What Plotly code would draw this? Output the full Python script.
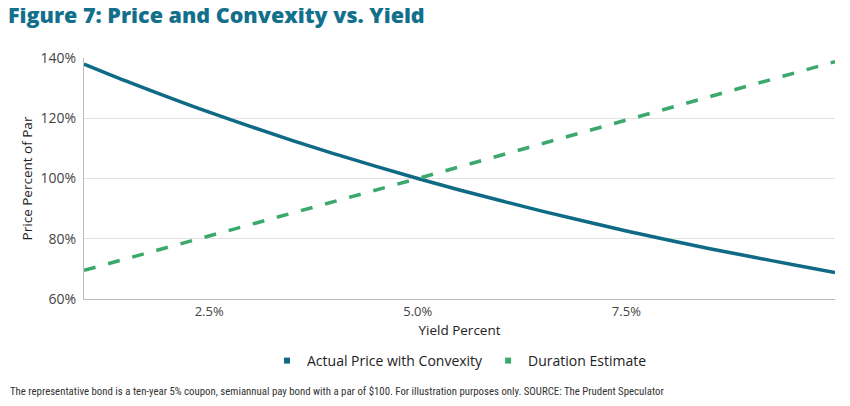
import plotly.graph_objects as go

# yield (%) and price (% of par)
yields = [1.0, 1.5, 2.0, 2.5, 3.0, 3.5, 4.0, 4.5, 5.0, 5.5, 6.0, 6.5, 7.0, 7.5, 8.0, 8.5, 9.0, 9.5, 10.0]
actual_price = [138.0, 132.4, 127.1, 122.0, 117.2, 112.6, 108.2, 104.0, 100.0, 96.2, 92.6, 89.1, 85.8, 82.6, 79.6, 76.7, 74.0, 71.4, 68.8]
duration_yields = [1.0, 5.0, 10.0]
duration_estimate = [69.5, 100.0, 138.8]

x_ticks = [2.5, 5.0, 7.5]
x_labels = ["2.5%", "5.0%", "7.5%"]
y_ticks = [60, 80, 100, 120, 140]
y_labels = ["60%", "80%", "100%", "120%", "140%"]

teal = "#0f6a85"
green = "#3aa96b"

fig = go.Figure()
fig.add_trace(go.Scatter(x=yields, y=actual_price, mode="lines", line=dict(color=teal, width=3.5, shape="spline"),
                         showlegend=False, hoverinfo="skip"))
fig.add_trace(go.Scatter(x=duration_yields, y=duration_estimate, mode="lines",
                         line=dict(color=green, width=3.5, dash="12px,13px"), showlegend=False, hoverinfo="skip"))
# legend entries with square swatches
fig.add_trace(go.Scatter(x=[None], y=[None], mode="markers", name="Actual Price with Convexity",
                         marker=dict(symbol="square", size=6, color=teal)))
fig.add_trace(go.Scatter(x=[None], y=[None], mode="markers", name="Duration Estimate",
                         marker=dict(symbol="square", size=6, color=green)))

# page body adds 8px offset, so margins are shifted to compensate
fig.update_layout(
    width=850, height=406,
    margin=dict(l=76, r=23, t=50, b=115, autoexpand=False),
    paper_bgcolor="white", plot_bgcolor="white",
    font=dict(family="Open Sans", color="#333333", size=13),
    title=dict(text="Figure 7: Price and Convexity vs. Yield", x=0, xanchor="left",
               yref="container", y=1.0, yanchor="top",
               font=dict(family="Open Sans", size=21.5, weight=800, color="#13708c")),
    legend=dict(orientation="h", x=0.5, xanchor="center", yref="container", y=1 - 353 / 406, yanchor="middle",
                font=dict(size=14, color="#222222"), itemwidth=30, tracegroupgap=0),
)
fig.update_xaxes(range=[1.0, 10.0], tickvals=x_ticks, ticktext=x_labels, showgrid=False, zeroline=False,
                 showline=True, linecolor="#bbbbbb", linewidth=1, ticks="", automargin=False,
                 title=dict(text="Yield Percent", font=dict(size=13.5, color="#222222"), standoff=6),
                 tickfont=dict(size=13, color="#444444"))
fig.update_yaxes(range=[60, 140], tickvals=y_ticks, ticktext=y_labels, showgrid=True, gridcolor="#e2e2e2",
                 zeroline=False, showline=True, linecolor="#bbbbbb", linewidth=1, ticks="", automargin=False,
                 ticklabelstandoff=4,
                 title=dict(text="Price Percent of Par", font=dict(size=13.5, color="#222222"), standoff=4),
                 tickfont=dict(size=14, color="#444444"))

fig.add_annotation(text="The representative bond is a ten-year 5% coupon, semiannual pay bond with a par of $100. For illustration purposes only. SOURCE: The Prudent Speculator",
                   xref="paper", yref="paper", x=-76 / 751, y=(291 - 383) / 241, xanchor="left", yanchor="middle",
                   showarrow=False,
                   font=dict(family="Liberation Sans Narrow, Roboto Condensed, Liberation Sans", size=10.8, color="#333333"))

fig.write_html("out.html")
